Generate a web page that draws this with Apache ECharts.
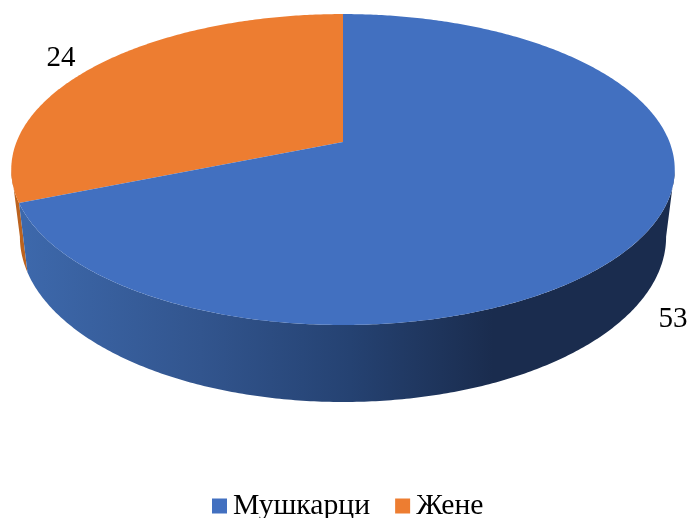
<!DOCTYPE html>
<html>
<head>
<meta charset="utf-8">
<style>html,body{margin:0;padding:0;background:#fff}#c{width:689px;height:518px}</style>
<script src="https://cdn.jsdelivr.net/npm/echarts@6/dist/echarts.min.js"></script>
</head>
<body>
<div id="c"></div>
<script>
const categories = ['Мушкарци', 'Жене'];
const values = [53, 24];
const topColors = ['#4270C0', '#ED7D31'];

const total = values.reduce((a, b) => a + b, 0);
// Layout of the tilted disc (perspective view of a circle)
const K = -0.177;
const topRim = { x0: 343, y0: 142, a: 150.6, b: 326.5 };
const lowRim = { x0: 343, y0: 207.6, a: 160, b: 318 };
const labelAt = [[673, 319], [61, 58]];
const SIL = Math.asin(-K);            // silhouette offset from horizontal
const rightSil = Math.PI / 2 + SIL, leftSil = 3 * Math.PI / 2 - SIL;

function project(rim, t) {            // t: clockwise from 12 o'clock
  const u = Math.sin(t), v = -Math.cos(t), w = 1 + K * v;
  return [rim.x0 + rim.b * u / w, rim.y0 + rim.a * v / w];
}
function arc(rim, from, to) {
  const n = Math.max(2, Math.ceil(Math.abs(to - from) / 0.01)), pts = [];
  for (let i = 0; i <= n; i++) pts.push(project(rim, from + (to - from) * i / n));
  return pts;
}
const wallFill = [
  new echarts.graphic.LinearGradient(25, 0, 675, 0, [
    { offset: 0, color: '#3D68AB' }, { offset: 0.27, color: '#32558E' },
    { offset: 0.5, color: '#254272' }, { offset: 0.72, color: '#1A2C4E' },
    { offset: 1, color: '#1A2C4E' }
  ], true),
  '#BC631F'
];

function renderSlice(idx) {
  return function (params, api) {
    const value = api.value(0);
    let before = 0;
    for (let i = 0; i < idx; i++) before += values[i];
    const a0 = before / total * 2 * Math.PI, a1 = (before + value) / total * 2 * Math.PI;
    const children = [];
    const ws = Math.max(a0, rightSil), we = Math.min(a1, leftSil);
    if (we > ws) {
      children.push({
        type: 'polygon',
        shape: { points: arc(topRim, ws, we).concat(arc(lowRim, we, ws)) },
        style: { fill: wallFill[idx], stroke: null }
      });
    }
    children.push({
      type: 'polygon',
      shape: { points: [[topRim.x0, topRim.y0]].concat(arc(topRim, a0, a1)) },
      style: { fill: topColors[idx], stroke: null }
    });
    children.push({
      type: 'text',
      style: {
        x: labelAt[idx][0], y: labelAt[idx][1], text: String(value),
        font: '29px "Liberation Serif"', fill: '#000',
        align: 'center', verticalAlign: 'middle'
      }
    });
    return { type: 'group', children: children };
  };
}

const chart = echarts.init(document.getElementById('c'), null, { renderer: 'canvas' });
chart.setOption({
  backgroundColor: '#fff',
  animation: false,
  legend: {
    left: 212, top: 491, itemWidth: 15, itemHeight: 15, itemGap: 25, padding: 0,
    icon: 'rect', data: categories,
    textStyle: { fontFamily: 'Liberation Serif', fontSize: 29.7, color: '#000', padding: [0, 0, 0, 1] }
  },
  series: categories.map((name, i) => ({
    type: 'custom', name: name, coordinateSystem: 'none',
    data: [[values[i]]], itemStyle: { color: topColors[i] },
    z: i === 0 ? 3 : 2, renderItem: renderSlice(i)
  }))
});
</script>
</body>
</html>
